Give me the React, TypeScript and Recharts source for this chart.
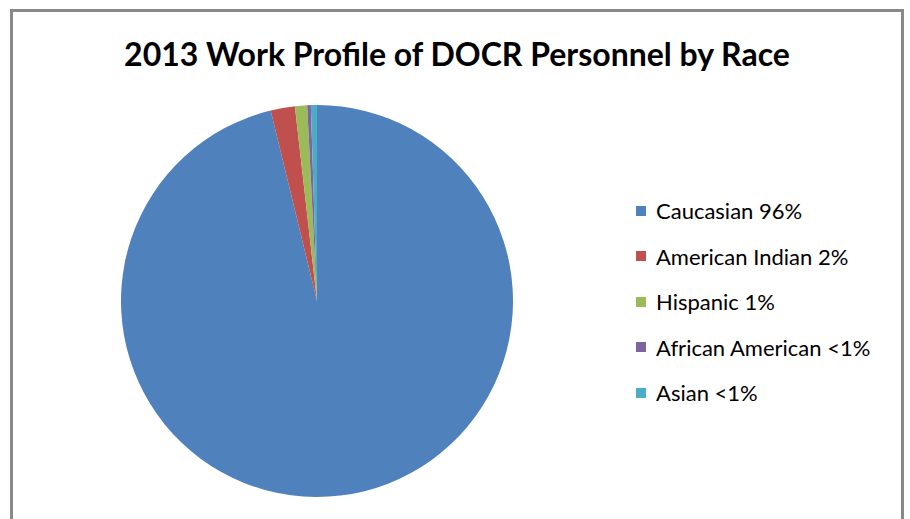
import React from "react";
import { PieChart, Pie, Cell, Legend } from "recharts";

const RACES = [
  "Caucasian 96%",
  "American Indian 2%",
  "Hispanic 1%",
  "African American <1%",
  "Asian <1%",
];
const SHARES = [96.2, 2.0, 1.0, 0.3, 0.5];
const COLORS = ["#4F81BD", "#C0504D", "#9BBB59", "#8064A2", "#4BACC6"];

const data = RACES.map((name, i) => ({ name, value: SHARES[i] }));

const FONT = "Lato, 'Open Sans', sans-serif";

// legend drawn by hand, in the original slice order
const RaceLegend: React.FC<any> = () => (
  <div style={{ fontFamily: FONT, fontSize: 22, color: "#000" }}>
    {RACES.map((name, index) => (
      <div
        key={name}
        style={{ display: "flex", alignItems: "center", height: 45.5 }}
      >
        <span
          style={{
            width: 10,
            height: 10,
            background: COLORS[index],
            marginRight: 10,
            display: "inline-block",
          }}
        />
        <span>{name}</span>
      </div>
    ))}
  </div>
);

export default function App() {
  return (
    <div
      style={{
        position: "absolute",
        left: 0,
        top: 0,
        width: 910,
        height: 519,
        background: "#fff",
        overflow: "hidden",
      }}
    >
      <div
        style={{
          position: "absolute",
          left: 10,
          top: 9,
          width: 888,
          height: 560,
          border: "3px solid #898989",
        }}
      />
      <PieChart
        width={910}
        height={519}
        margin={{ top: 0, right: 0, bottom: 0, left: 0 }}
        style={{ position: "absolute", left: 0, top: 0 }}
      >
        <text
          x={457}
          y={66}
          textAnchor="middle"
          style={{ fontFamily: FONT, fontWeight: 700, fontSize: 32, fill: "#000" }}
        >
          2013 Work Profile of DOCR Personnel by Race
        </text>
        <Pie
          data={data}
          dataKey="value"
          nameKey="name"
          cx={317}
          cy={301}
          outerRadius={196}
          startAngle={90}
          endAngle={-270}
          stroke="none"
          isAnimationActive={false}
        >
          {data.map((d, i) => (
            <Cell key={d.name} fill={COLORS[i]} />
          ))}
        </Pie>
        <Legend
          layout="vertical"
          content={<RaceLegend />}
          wrapperStyle={{ left: 636, top: 188, width: 270 }}
        />
      </PieChart>
    </div>
  );
}
